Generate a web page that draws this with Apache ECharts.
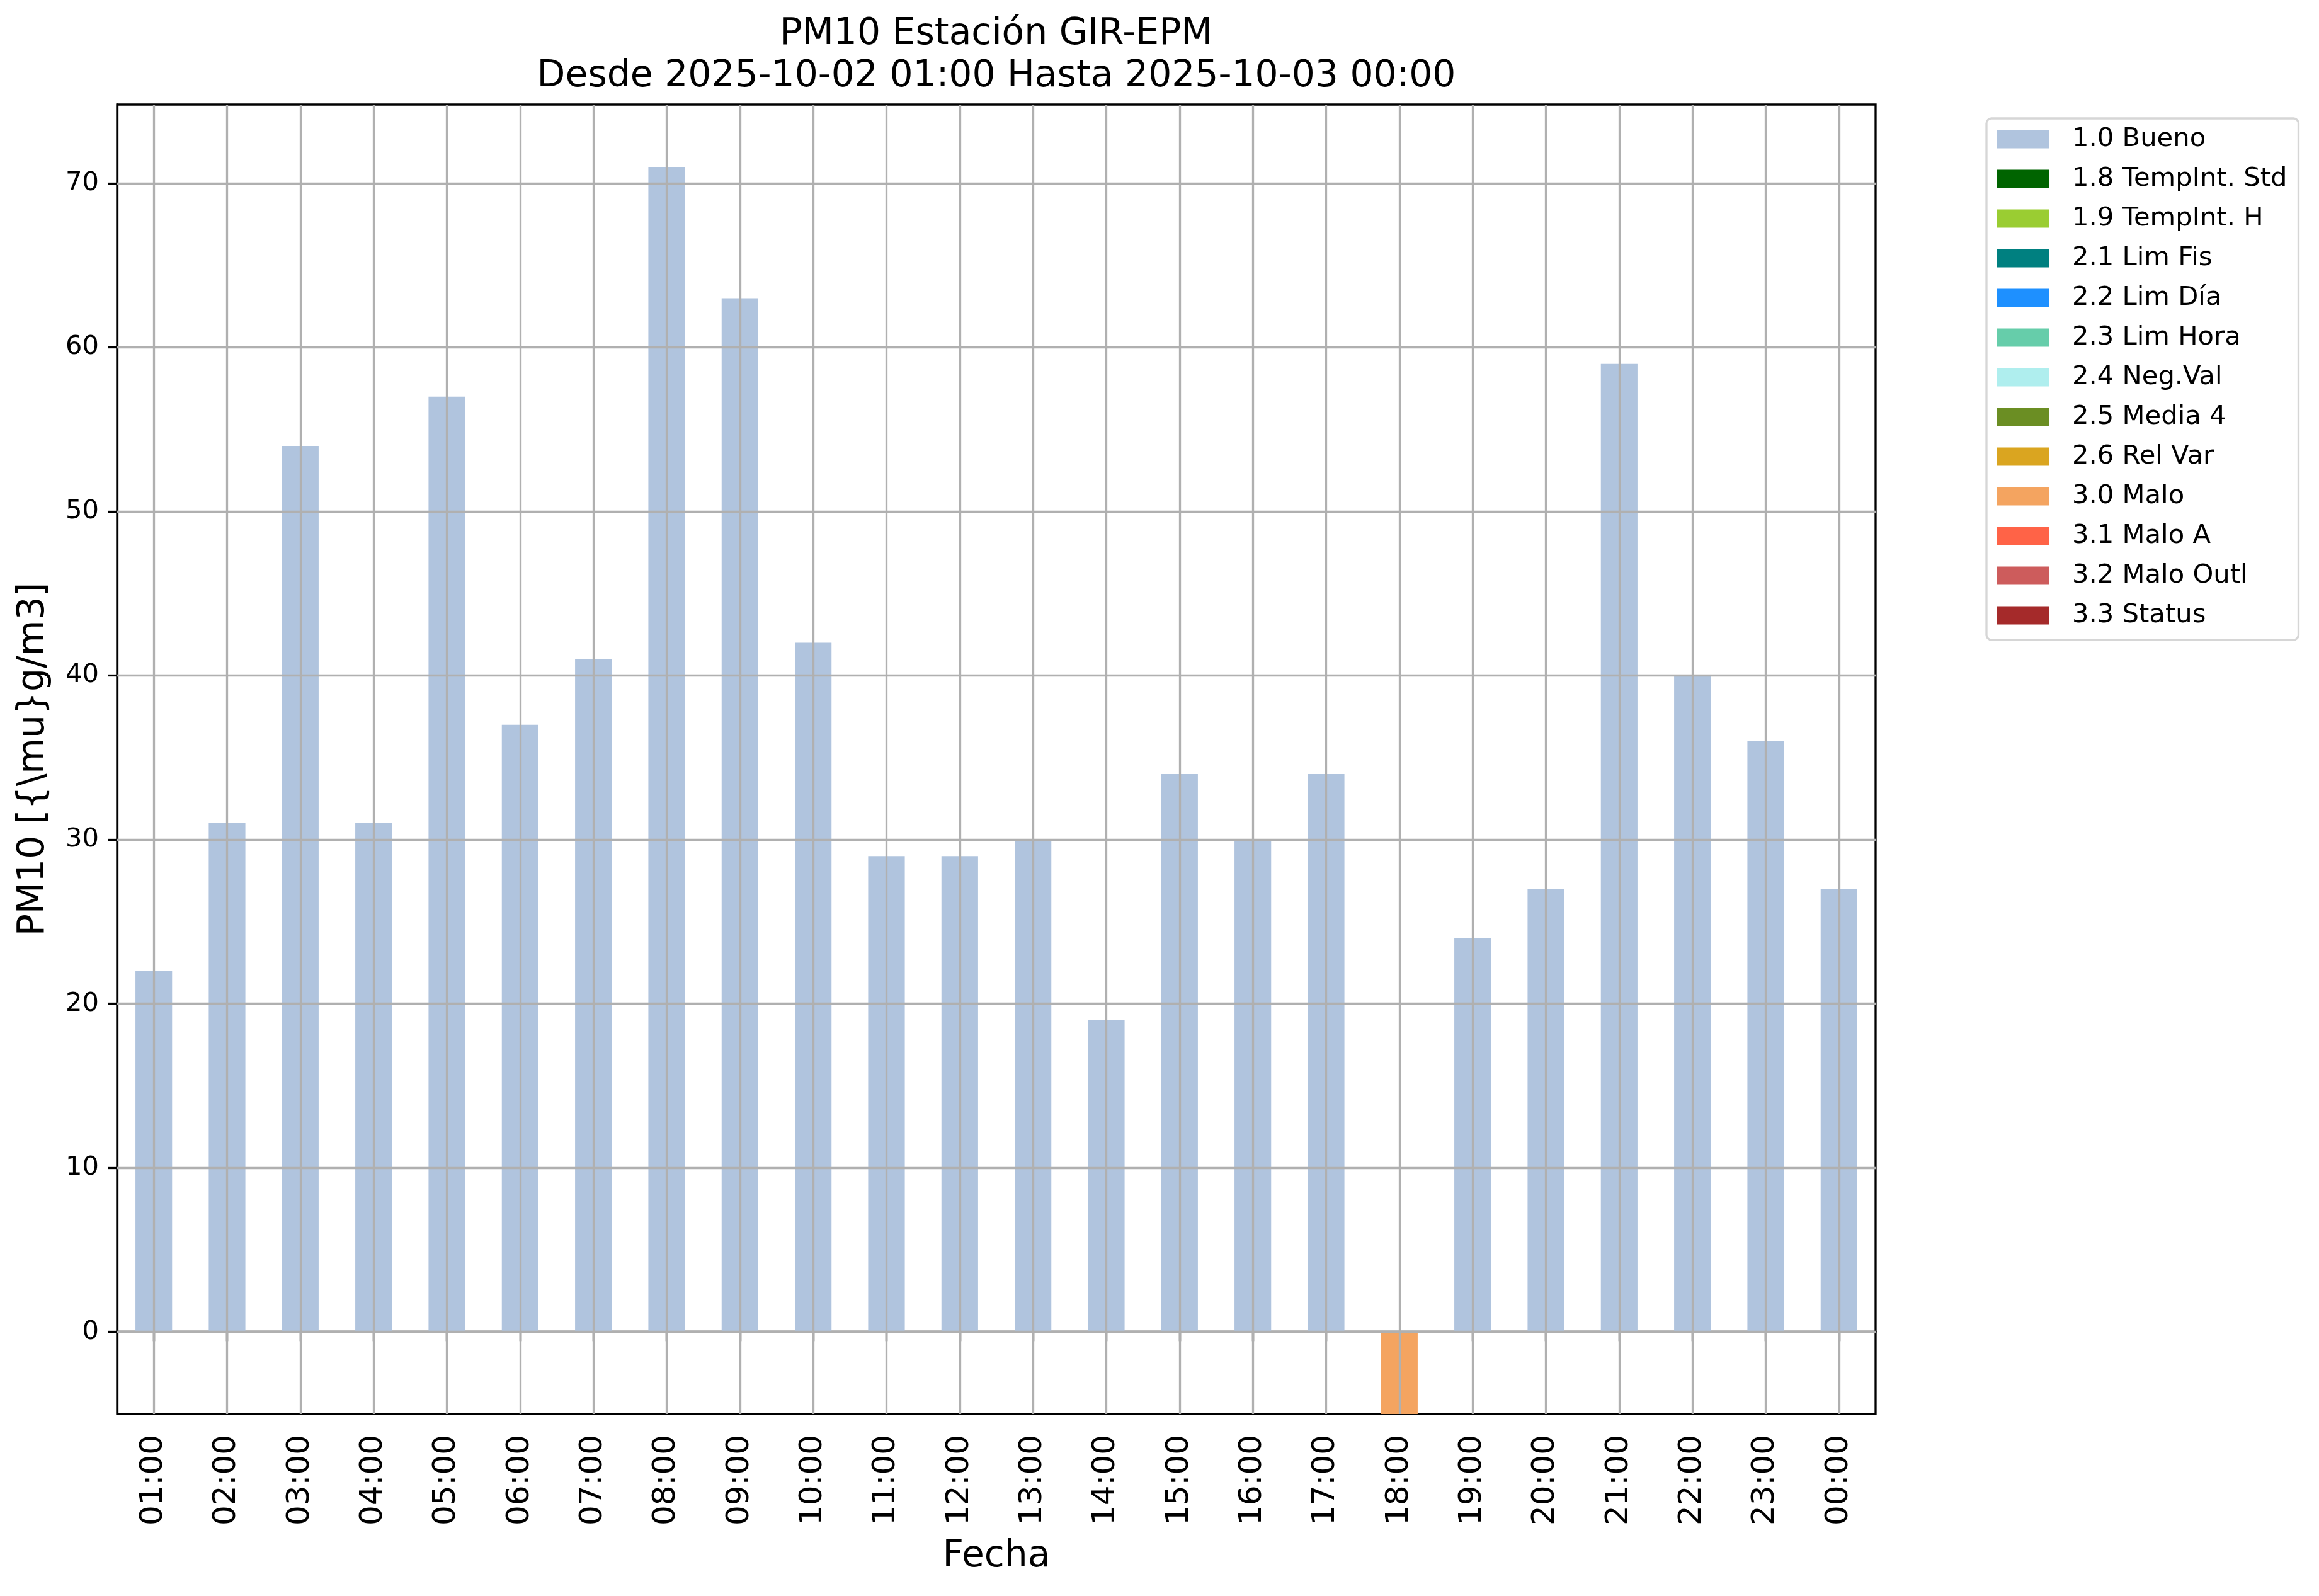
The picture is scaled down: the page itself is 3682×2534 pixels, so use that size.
<!DOCTYPE html>
<html>
<head>
<meta charset="utf-8">
<script src="https://cdn.jsdelivr.net/npm/echarts@6/dist/echarts.min.js"></script>
<style>
html,body{margin:0;padding:0;background:#fff;}
#chart{width:3682px;height:2534px;}
</style>
</head>
<body>
<div id="chart"></div>
<script>
// ---- data ----
const hours = ['01:00','02:00','03:00','04:00','05:00','06:00','07:00','08:00','09:00','10:00','11:00','12:00','13:00','14:00','15:00','16:00','17:00','18:00','19:00','20:00','21:00','22:00','23:00','00:00'];
const flagNames = ['1.0 Bueno','1.8 TempInt. Std','1.9 TempInt. H','2.1 Lim Fis','2.2 Lim Día','2.3 Lim Hora','2.4 Neg.Val','2.5 Media 4','2.6 Rel Var','3.0 Malo','3.1 Malo A','3.2 Malo Outl','3.3 Status'];
const flagColors = ['#b0c4de','#006400','#9acd32','#008080','#1e90ff','#66cdaa','#afeeee','#6b8e23','#daa520','#f4a460','#ff6347','#cd5c5c','#a52a2a'];
const bueno = [22,31,54,31,57,37,41,71,63,42,29,29,30,19,34,30,34,null,24,27,59,40,36,27];
const malo  = [null,null,null,null,null,null,null,null,null,null,null,null,null,null,null,null,null,-5,null,null,null,null,null,null];
const yTicks = [0,10,20,30,40,50,60,70];
const titleText = 'PM10 Estación GIR-EPM\nDesde 2025-10-02 01:00 Hasta 2025-10-03 00:00';

const seriesData = {'1.0 Bueno': bueno, '3.0 Malo': malo};

const FONT = 'DejaVu Sans';
const LW = 3.3;

const series = flagNames.map((name, i) => ({
  name: name,
  type: 'bar',
  stack: 'flags',
  barWidth: '50%',
  data: seriesData[name] || [],
  itemStyle: {color: flagColors[i]},
  emphasis: {disabled: true}
}));

// grid lines drawn on top of bars (as in reference)
series.push({
  name: 'grid',
  type: 'line',
  data: [],
  silent: true,
  markLine: {
    silent: true,
    symbol: ['none','none'],
    label: {show: false},
    emphasis: {disabled: true},
    lineStyle: {color: '#b0b0b0', width: LW, type: 'solid'},
    data: yTicks.map(v => ({yAxis: v})).concat(hours.map(h => ({xAxis: h})))
  }
});

const chart = echarts.init(document.getElementById('chart'), null, {renderer: 'canvas'});
chart.setOption({
  animation: false,
  backgroundColor: '#ffffff',
  textStyle: {fontFamily: FONT},
  title: {
    text: titleText,
    left: 1582,
    top: 21,
    padding: 0,
    textAlign: 'center',
    textStyle: {fontFamily: FONT, fontSize: 58.3, fontWeight: 'normal', color: '#000', lineHeight: 67}
  },
  legend: {
    data: flagNames,
    orient: 'vertical',
    left: 3154,
    top: 188,
    icon: 'rect',
    itemWidth: 83,
    itemHeight: 29,
    itemGap: 21,
    padding: [12, 18, 18, 17],
    backgroundColor: '#ffffff',
    borderColor: '#d6d6d6',
    borderWidth: 3.3,
    borderRadius: 8,
    textStyle: {fontFamily: FONT, fontSize: 41.7, color: '#000', lineHeight: 42, padding: [0,0,0,31]}
  },
  grid: {
    left: 186, right: 704, top: 166, bottom: 289,
    show: true, borderColor: '#000', borderWidth: LW, backgroundColor: 'transparent',
    containLabel: false
  },
  xAxis: {
    type: 'category',
    data: hours,
    boundaryGap: true,
    name: 'Fecha',
    nameLocation: 'middle',
    nameGap: 198,
    nameTextStyle: {fontFamily: FONT, fontSize: 58.3, color: '#000'},
    axisLine: {show: true, lineStyle: {color: '#000', width: LW}},
    axisTick: {show: true, alignWithLabel: true, length: 14.6, lineStyle: {color: '#000', width: LW}},
    axisLabel: {rotate: 90, margin: 33, fontFamily: FONT, fontSize: 50, color: '#000', interval: 0},
    splitLine: {show: false}
  },
  yAxis: {
    type: 'value',
    min: -5,
    max: 74.8,
    name: 'PM10 [{\\mu}g/m3]',
    nameLocation: 'middle',
    nameGap: 103,
    nameTextStyle: {fontFamily: FONT, fontSize: 58.3, color: '#000'},
    axisLine: {show: true, lineStyle: {color: '#000', width: LW}},
    axisTick: {show: true, length: 14.6, customValues: yTicks, lineStyle: {color: '#000', width: LW}},
    axisLabel: {margin: 29, fontFamily: FONT, fontSize: 41.7, color: '#000', customValues: yTicks},
    splitLine: {show: false}
  },
  series: series
});
</script>
</body>
</html>
